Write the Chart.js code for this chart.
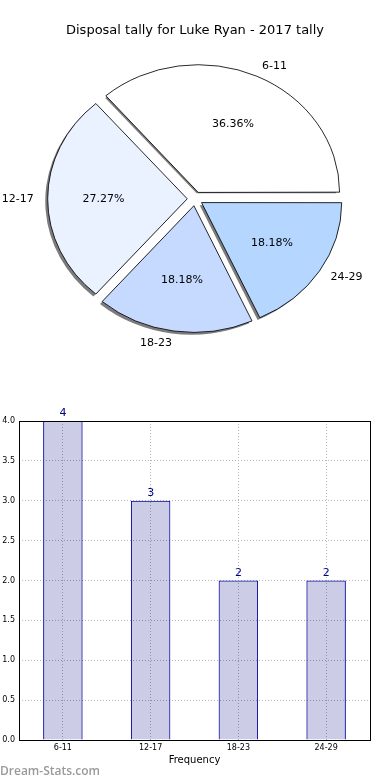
<!DOCTYPE html>
<html>
<head>
<meta charset="utf-8">
<script src="https://cdn.jsdelivr.net/npm/chart.js@4.4.1/dist/chart.umd.min.js"></script>
<style>
  body { margin: 0; background: #fff; width: 390px; height: 780px; position: relative; overflow: hidden; }
  #pieChart { position: absolute; left: 0; top: 0; }
  #barChart { position: absolute; left: 0; top: 380px; }
  .mark { position: absolute; left: 0; top: 762px; font: 600 12px "Open Sans", sans-serif; color: #9a9a9a; }
</style>
</head>
<body>
<canvas id="pieChart" width="390" height="380"></canvas>
<canvas id="barChart" width="390" height="400"></canvas>
<div class="mark">Dream-Stats.com</div>
<script>
// data
const categories = ['6-11', '12-17', '18-23', '24-29'];
const tallies = [4, 3, 2, 2];
const chartTitle = 'Disposal tally for Luke Ryan - 2017 tally';
const axisTitle = 'Frequency';

const sliceColours = ['#ffffff', '#eaf1ff', '#c6d9ff', '#b4d6ff'];
const stretchX = 1.107; // pie is drawn as an ellipse
const explode = 28;     // chart.js moves an arc by about offset / 4
const font = '"DejaVu Sans", sans-serif';

const total = tallies.reduce((a, b) => a + b, 0);

// pie goes counter-clockwise from east, so feed chart.js the reversed order
const pieLabels = categories.slice().reverse();
const pieValues = tallies.slice().reverse();
const pieColours = sliceColours.slice().reverse();

// same shift chart.js uses when it draws an arc with an offset
function arcShift(arc) {
  const circ = arc.endAngle - arc.startAngle;
  const fix = 1 - Math.sin(Math.min(Math.PI, circ));
  return explode / 4 * (1 + fix);
}

const pieLook = {
  id: 'pieLook',
  beforeDatasetsDraw(chart) {
    const arcs = chart.getDatasetMeta(0).data;
    const c = arcs[0];
    const ctx = chart.ctx;
    ctx.save();
    ctx.translate(c.x, c.y);
    ctx.scale(stretchX, 1);
    ctx.translate(-c.x, -c.y);
    // drop shadow under every slice
    ctx.fillStyle = '#7c7c7c';
    arcs.forEach(arc => {
      const half = (arc.startAngle + arc.endAngle) / 2;
      const d = arcShift(arc);
      const x = arc.x + Math.cos(half) * d - 2.2;
      const y = arc.y + Math.sin(half) * d + 2.4;
      ctx.beginPath();
      ctx.moveTo(x, y);
      ctx.arc(x, y, arc.outerRadius, arc.startAngle, arc.endAngle);
      ctx.closePath();
      ctx.fill();
    });
  },
  afterDatasetsDraw(chart) {
    const ctx = chart.ctx;
    ctx.restore();
    ctx.save();
    ctx.fillStyle = '#000';
    ctx.font = '11px ' + font;
    ctx.textBaseline = 'middle';
    chart.getDatasetMeta(0).data.forEach((arc, i) => {
      const half = (arc.startAngle + arc.endAngle) / 2;
      const cos = Math.cos(half), sin = Math.sin(half);
      const d = explode / 4;
      const at = (k) => [arc.x + cos * (k * arc.outerRadius + d) * stretchX, arc.y + sin * (k * arc.outerRadius + d)];
      let p = at(0.6);
      ctx.textAlign = 'center';
      ctx.fillText((pieValues[i] / total * 100).toFixed(2) + '%', p[0], p[1]);
      p = at(1.1);
      ctx.textAlign = cos >= 0 ? 'left' : 'right';
      ctx.fillText(pieLabels[i], p[0], p[1]);
    });
    ctx.restore();
  }
};

new Chart(document.getElementById('pieChart'), {
  type: 'pie',
  data: {
    labels: pieLabels,
    datasets: [{
      data: pieValues,
      backgroundColor: pieColours,
      borderColor: '#000',
      borderWidth: 0.8,
      offset: explode,
      radius: 126
    }]
  },
  options: {
    responsive: false,
    animation: false,
    rotation: 90,
    layout: { padding: { top: 0, bottom: 46 } },
    plugins: {
      legend: { display: false },
      tooltip: { enabled: false },
      title: {
        display: true,
        text: chartTitle,
        color: '#000',
        font: { family: font, size: 13, weight: 'normal' },
        padding: { top: 23, bottom: 25 }
      }
    }
  },
  plugins: [pieLook]
});

const barLook = {
  id: 'barLook',
  afterDatasetsDraw(chart) {
    const ctx = chart.ctx;
    const a = chart.chartArea;
    ctx.save();
    ctx.strokeStyle = '#000';
    ctx.lineWidth = 1;
    ctx.strokeRect(a.left + 0.5, a.top + 0.5, a.right - a.left, a.bottom - a.top);
    ctx.fillStyle = '#00008b';
    ctx.font = '11px ' + font;
    ctx.textAlign = 'center';
    ctx.textBaseline = 'bottom';
    chart.getDatasetMeta(0).data.forEach((bar, i) => {
      ctx.fillText(String(tallies[i]), bar.x, bar.y - 2);
    });
    ctx.restore();
  }
};

new Chart(document.getElementById('barChart'), {
  type: 'bar',
  data: {
    labels: categories,
    datasets: [{
      data: tallies,
      backgroundColor: 'rgba(0,0,128,0.2)',
      borderColor: '#0000a0',
      borderWidth: 1,
      barPercentage: 0.45,
      categoryPercentage: 1
    }]
  },
  options: {
    responsive: false,
    animation: false,
    layout: { padding: { top: 41, right: 20, left: 0, bottom: 0 } },
    plugins: { legend: { display: false }, tooltip: { enabled: false } },
    scales: {
      x: {
        grid: { color: '#b5b5b5', offset: false, drawTicks: false },
        border: { display: false, dash: [1, 2] },
        ticks: { color: '#000', font: { family: font, size: 8 }, padding: 3 },
        title: {
          display: true,
          text: axisTitle,
          color: '#000',
          font: { family: font, size: 10 },
          padding: { top: 0, bottom: 14 }
        },
        afterFit(scale) { scale.height = 40; }
      },
      y: {
        min: 0,
        max: 4,
        grid: { color: '#b5b5b5', drawTicks: false },
        border: { display: false, dash: [1, 2] },
        ticks: {
          stepSize: 0.5,
          color: '#000',
          font: { family: font, size: 8 },
          padding: 4,
          callback: (v) => v.toFixed(1)
        },
        afterFit(scale) { scale.width = 19; }
      }
    }
  },
  plugins: [barLook]
});
</script>
</body>
</html>
